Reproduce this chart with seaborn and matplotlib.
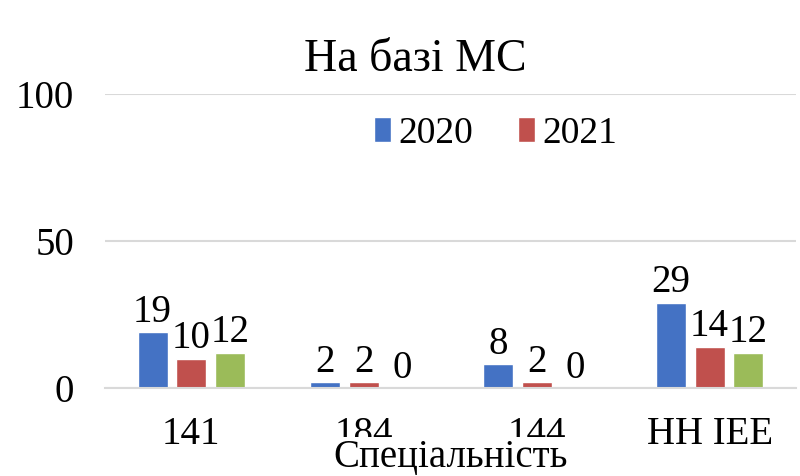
import matplotlib
matplotlib.use("Agg")
import matplotlib.pyplot as plt
import seaborn as sns
import pandas as pd

categories = ["141", "184", "144", "НН ІЕЕ"]
years = ["2020", "2021", "2022"]
values_2020 = [19, 2, 8, 29]
values_2021 = [10, 2, 2, 14]
values_2022 = [12, 0, 0, 12]
colors = ["#4472C4", "#C0504D", "#9BBB59"]

rows = []
for y, vals in zip(years, [values_2020, values_2021, values_2022]):
    for c, v in zip(categories, vals):
        rows.append({"cat": c, "year": y, "val": v})
df = pd.DataFrame(rows)

sns.set_theme(style="white")
plt.rcParams["font.family"] = ["Liberation Serif", "DejaVu Serif"]
plt.rcParams["text.color"] = "black"
plt.rcParams["xtick.color"] = "black"
plt.rcParams["ytick.color"] = "black"
plt.rcParams["axes.labelcolor"] = "black"

fig = plt.figure(figsize=(8, 4.76), dpi=100)
ax = fig.add_axes([0.131, 0.185, 0.864, 0.6175])

sns.barplot(data=df, x="cat", y="val", hue="year", order=categories,
            hue_order=years, palette=colors, width=0.67, gap=0.22,
            saturation=1, ax=ax, legend=True)

for cont in ax.containers:
    ax.bar_label(cont, fontsize=28, padding=1, color="black")

ax.set_ylim(0, 100)
ax.set_xlim(-0.5, 3.5)
ax.set_yticks([0, 50, 100])
ax.yaxis.grid(True, color="#d9d9d9", linewidth=1.5)
ax.set_axisbelow(True)
for s in ["top", "right", "left"]:
    ax.spines[s].set_visible(False)
ax.spines["bottom"].set_color("#d9d9d9")
ax.spines["bottom"].set_linewidth(1.5)
ax.tick_params(axis="y", labelsize=28, length=0, pad=22)
ax.tick_params(axis="x", labelsize=28, length=0, pad=20)
ax.set_ylabel("")
ax.set_xlabel("Спеціальність", fontsize=28, labelpad=-10,
              bbox=dict(facecolor="white", edgecolor="none", pad=1))

handles, labels = ax.get_legend_handles_labels()
ax.legend(handles[:2], labels[:2], loc="center", bbox_to_anchor=(0.565, 0.865),
          ncol=2, frameon=False, fontsize=27, handlelength=0.45,
          handleheight=0.65, handletextpad=0.2, columnspacing=1.2)

fig.text(415 / 800, 1 - 60 / 476, "На базі МС", ha="center", va="center",
         fontsize=33)

fig.savefig("out.png", dpi=100)
